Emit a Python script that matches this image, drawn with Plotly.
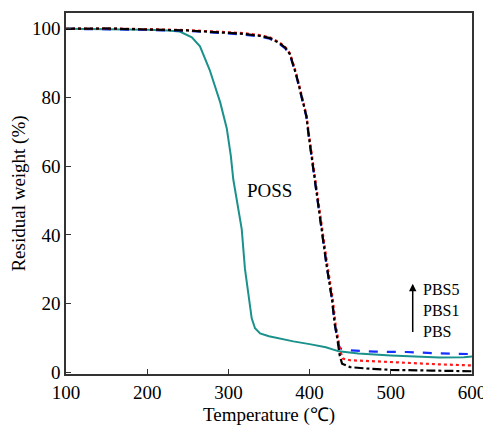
import plotly.graph_objects as go

poss_t = [100, 150, 200, 225, 240, 255, 265, 277, 290, 298, 303, 306, 312, 316.4, 320.4, 324.5, 328.7, 332.8, 339, 350, 361.5, 380, 400, 420, 436, 460, 500, 530, 560, 590, 600]
poss_w = [100, 99.9, 99.7, 99.5, 99.2, 97.5, 94.9, 88, 78.5, 71, 63, 56.2, 47.5, 41.7, 30.1, 22.4, 15.7, 12.8, 11.3, 10.5, 9.9, 9.0, 8.2, 7.3, 6.1, 5.5, 4.9, 4.5, 4.3, 4.4, 4.6]

pbs_t = [100, 150, 200, 250, 300, 320, 340, 351, 363, 370, 376, 384, 390, 396, 399, 404, 410, 415, 421, 427.5, 431, 434, 437, 440, 450, 470, 500, 550, 600]
pbs_w = [100, 100.1, 99.8, 99.5, 98.8, 98.5, 97.9, 97.3, 95.8, 94.5, 92.5, 86.2, 80.4, 74.6, 68.8, 60, 50, 41, 31, 21.4, 14, 10, 5, 2.5, 1.5, 1.1, 0.7, 0.5, 0.3]

pbs1_t = [100, 150, 200, 250, 300, 320, 340, 351, 363, 370, 376, 384, 390, 396, 399.5, 405, 411, 416, 422, 428.5, 432, 435, 438, 441, 450, 480, 520, 560, 600]
pbs1_w = [100, 100.1, 99.9, 99.6, 99.0, 98.7, 98.1, 97.5, 96.0, 94.7, 92.8, 86.6, 80.8, 75, 68.8, 60, 50, 41, 31, 21.4, 14, 10, 6, 4, 3.5, 3.2, 2.7, 2.3, 2.0]

pbs5_t = [100, 150, 200, 250, 300, 320, 340, 351, 363, 370, 376, 384, 390, 396, 399, 404, 410, 415, 421, 427.5, 431, 434, 437, 440, 450, 480, 520, 560, 590, 600]
pbs5_w = [100, 99.9, 99.7, 99.4, 98.7, 98.3, 97.7, 97.1, 95.6, 94.3, 92.3, 86.0, 80.2, 74.4, 68.6, 60, 50, 41, 31, 21.4, 14, 10, 7, 6.8, 6.4, 6.0, 5.9, 5.5, 5.2, 5.3]

x_ticks = [100, 200, 300, 400, 500, 600]
y_ticks = [0, 20, 40, 60, 80, 100]

FONT = "Times New Roman, Liberation Serif, serif"
fig = go.Figure()
fig.add_trace(go.Scatter(x=poss_t, y=poss_w, mode="lines", line=dict(color="#1a918b", width=2), name="POSS"))
fig.add_trace(go.Scatter(x=pbs5_t, y=pbs5_w, mode="lines", line=dict(color="#1530ff", width=2.2, dash="dash"), name="PBS5"))
fig.add_trace(go.Scatter(x=pbs1_t, y=pbs1_w, mode="lines", line=dict(color="#ff1a1a", width=2.2, dash="dot"), name="PBS1"))
fig.add_trace(go.Scatter(x=pbs_t, y=pbs_w, mode="lines", line=dict(color="black", width=2.2, dash="dashdot"), name="PBS"))

fig.add_annotation(x=351, y=52.8, text="POSS", showarrow=False, font=dict(family=FONT, size=19, color="black"))
fig.add_annotation(x=527, y=25.8, ax=527, ay=11.3, axref="x", ayref="y", text="", showarrow=True,
                   arrowhead=2, arrowsize=1, arrowwidth=1.5, arrowcolor="black")
fig.add_annotation(x=537, y=18, text="PBS5<br>PBS1<br>PBS", showarrow=False, xanchor="left", yanchor="middle",
                   align="left", font=dict(family=FONT, size=16, color="black"))

axis_common = dict(showgrid=False, zeroline=False, showline=True, mirror=True, linecolor="#333333", linewidth=1.5,
                   ticks="inside", ticklen=5, tickwidth=1.2, tickcolor="#333333", automargin=False,
                   tickfont=dict(family=FONT, size=19, color="black"))
fig.update_xaxes(range=[100, 600], tickvals=x_ticks, title=dict(text="Temperature (℃)", font=dict(family=FONT, size=19, color="black"), standoff=6), **axis_common)
fig.update_yaxes(range=[-0.5, 104.6], tickvals=y_ticks, title=dict(text="Residual weight (%)", font=dict(family=FONT, size=19, color="black"), standoff=6), **axis_common)
# page body adds an 8px margin: shrink the figure and shift margins accordingly
fig.update_layout(width=483, height=421, margin=dict(l=58, r=19, t=5, b=55), showlegend=False,
                  plot_bgcolor="white", paper_bgcolor="white")
fig.write_html("out.html")
